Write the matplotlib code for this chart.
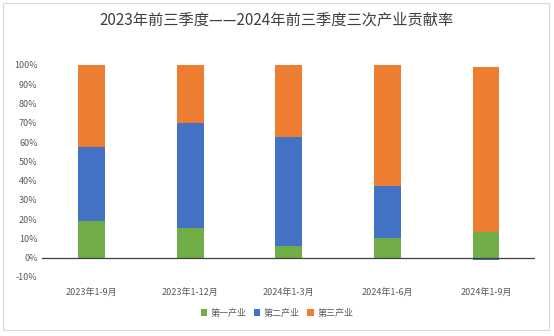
import matplotlib
matplotlib.use('Agg')
import numpy as np
import matplotlib.pyplot as plt
from matplotlib.patches import Rectangle
from matplotlib.ticker import FuncFormatter

plt.rcParams['font.family'] = ['Noto Sans CJK SC', 'DejaVu Sans']

# Contribution shares (%) of the three industries
periods = ['2023年1-9月', '2023年1-12月', '2024年1-3月', '2024年1-6月', '2024年1-9月']
primary = [18.8, 15.4, 6.3, 10.0, 13.4]
secondary = [38.4, 54.4, 56.5, 27.2, -1.4]
tertiary = [42.8, 30.2, 37.2, 63.0, 85.7]
series_names = ['第一产业', '第二产业', '第三产业']
colors = ['#70AD47', '#4472C4', '#ED7D31']

fig = plt.figure(figsize=(5.54, 3.36), dpi=100)
ax = fig.add_axes([0.0765, 0.1756, 0.8895, 0.631])

# Outer chart frame
fig.patches.append(Rectangle((3 / 554, 1 - 330 / 336), 546 / 554, 327 / 336,
                             transform=fig.transFigure, fill=False,
                             edgecolor='#D9D9D9', linewidth=0.8))

x = np.arange(len(periods))
width = 0.27

# Excel-style stacking: positives stack upward, negatives downward
pos_base = np.zeros(len(periods))
neg_base = np.zeros(len(periods))
for vals, name, c in zip([primary, secondary, tertiary], series_names, colors):
    vals = np.array(vals)
    bottoms = np.where(vals >= 0, pos_base, neg_base)
    ax.bar(x, vals, width, bottom=bottoms, color=c, label=name, zorder=2)
    pos_base += np.where(vals >= 0, vals, 0)
    neg_base += np.where(vals < 0, vals, 0)

ax.set_xlim(-0.5, len(periods) - 0.5)
ax.set_ylim(-10, 100)
ax.set_yticks(np.arange(-10, 101, 10))
ax.yaxis.set_major_formatter(FuncFormatter(lambda v, p: f'{v:.0f}%'))
ax.axhline(0, color='#404040', linewidth=0.9, zorder=3)

for s in ax.spines.values():
    s.set_visible(False)
ax.tick_params(axis='both', length=0, labelsize=6.5, labelcolor='#595959')

# category labels sit below the -10% line
ax.set_xticks(x)
ax.set_xticklabels(periods)
ax.tick_params(axis='x', pad=8)

fig.text(0.5, 1 - 20 / 336, '2023年前三季度——2024年前三季度三次产业贡献率',
         ha='center', va='center', fontsize=11, color='#404040')

fig.legend(loc='center', bbox_to_anchor=(0.5, 1 - 313 / 336), ncol=3,
           frameon=False, fontsize=6.5, labelcolor='#595959',
           handlelength=0.7, handleheight=0.7, handletextpad=0.4,
           columnspacing=0.8)

fig.savefig('out.png', dpi=100)
